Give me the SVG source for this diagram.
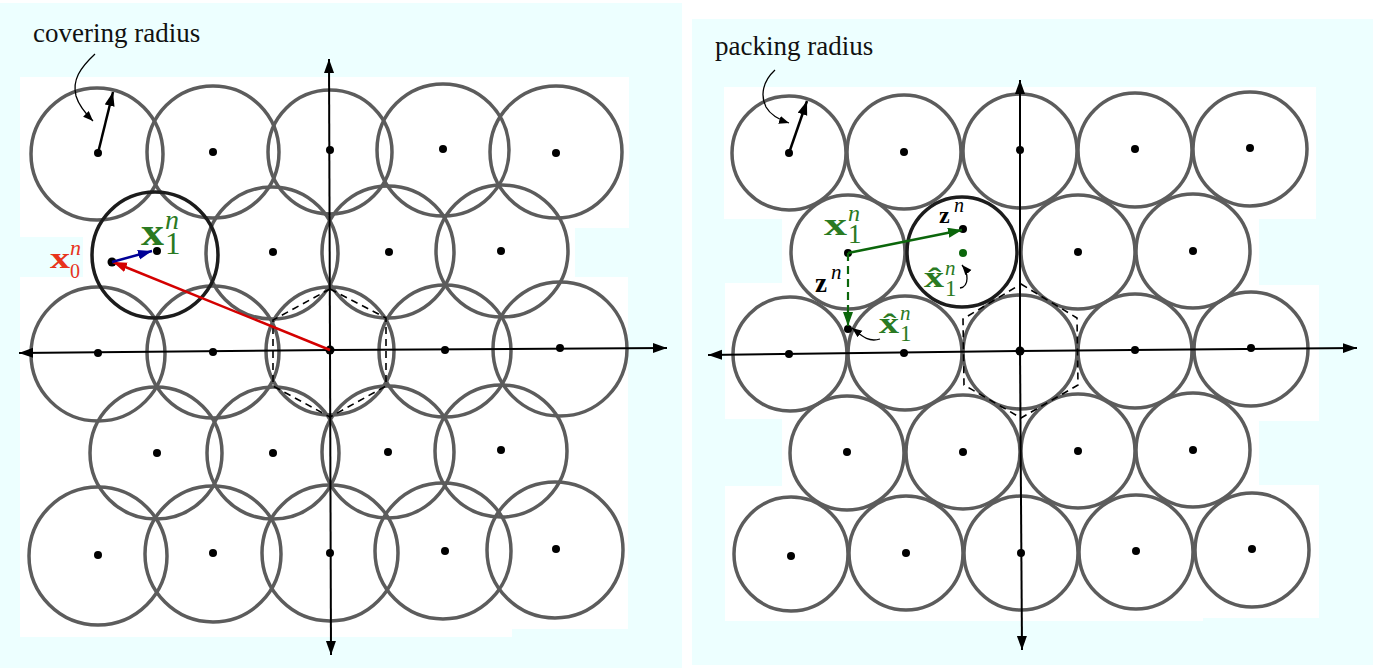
<svg xmlns="http://www.w3.org/2000/svg" width="1392" height="671" viewBox="0 0 1392 671">
<style>
.bg{fill:#edffff}
.wh{fill:#ffffff}
.c{fill:none;stroke:#5c5c5c;stroke-width:3.5}
.cb{fill:none;stroke:#1c1c1c;stroke-width:3.5}
.d{fill:#000}
.ax{stroke:#000;stroke-width:2;fill:none}
.hex{fill:none;stroke:#000;stroke-width:1.6;stroke-dasharray:7 5}
.lbl{font-family:"Liberation Serif","Times New Roman",serif;font-size:27px;fill:#111}
.m{font-family:"Liberation Serif","Times New Roman",serif}
.bx{font-weight:bold}
.it{font-style:italic}
</style>
<defs>
<marker id="ak" markerUnits="userSpaceOnUse" markerWidth="16" markerHeight="12" refX="14" refY="5" orient="auto"><path d="M0,0 L14,5 L0,10 z" fill="#000"/></marker>
<marker id="aks" markerUnits="userSpaceOnUse" markerWidth="12" markerHeight="10" refX="10" refY="4" orient="auto"><path d="M0,0 L10,4 L0,8 z" fill="#000"/></marker>
<marker id="ar" markerUnits="userSpaceOnUse" markerWidth="16" markerHeight="12" refX="14" refY="5" orient="auto"><path d="M0,0 L14,5 L0,10 z" fill="#d40000"/></marker>
<marker id="ab" markerUnits="userSpaceOnUse" markerWidth="16" markerHeight="12" refX="14" refY="5" orient="auto"><path d="M0,0 L14,5 L0,10 z" fill="#000096"/></marker>
<marker id="ag" markerUnits="userSpaceOnUse" markerWidth="16" markerHeight="12" refX="14" refY="5" orient="auto"><path d="M0,0 L14,5 L0,10 z" fill="#0b660b"/></marker>
</defs>

<g id="background">
<rect class="bg" x="0" y="3" width="682" height="665"/>
<rect class="bg" x="692" y="19" width="681" height="646"/>
<path class="wh" d="M20,77 H629 V228 H575 V277 H628 V629 H512 V637 H20 V277 H83 V237 H20 Z"/>
<path class="wh" d="M724,87 H1316 V219 H1259 V285 H1319 V421 H1259 V485 H1319 V618 H1203 V621 H725 V486 H782 V419 H725 V283 H782 V219 H724 Z"/>
</g>

<g id="left-lattice">
<g id="L11"><circle class="c" cx="97" cy="154" r="66"/><circle class="d" cx="98" cy="153" r="4"/></g>
<g id="L12"><circle class="c" cx="213" cy="152" r="66"/><circle class="d" cx="213" cy="152" r="4"/></g>
<g id="L13"><circle class="c" cx="330" cy="152" r="62"/><circle class="d" cx="330" cy="150" r="4"/></g>
<g id="L14"><circle class="c" cx="443" cy="150" r="66"/><circle class="d" cx="443" cy="149" r="4"/></g>
<g id="L15"><circle class="c" cx="556" cy="152" r="66"/><circle class="d" cx="556" cy="153" r="4"/></g>
<g id="L22"><circle class="c" cx="272" cy="253" r="66"/><circle class="d" cx="273" cy="252" r="4"/></g>
<g id="L23"><circle class="c" cx="388" cy="252" r="66"/><circle class="d" cx="389" cy="252" r="4"/></g>
<g id="L24"><circle class="c" cx="502" cy="251" r="66"/><circle class="d" cx="501" cy="251" r="4"/></g>
<g id="L31"><circle class="c" cx="98" cy="354" r="67"/><circle class="d" cx="98" cy="353" r="4"/></g>
<g id="L32"><circle class="c" cx="213" cy="352" r="66"/><circle class="d" cx="213" cy="352" r="4"/></g>
<g id="L33"><circle class="c" cx="330" cy="351" r="64"/><circle class="d" cx="330" cy="350" r="4.5"/></g>
<g id="L34"><circle class="c" cx="445" cy="351" r="66"/><circle class="d" cx="445" cy="350" r="4"/></g>
<g id="L35"><circle class="c" cx="560" cy="349" r="67"/><circle class="d" cx="560" cy="348" r="4"/></g>
<g id="L41"><circle class="c" cx="156" cy="453" r="66"/><circle class="d" cx="157" cy="453" r="4"/></g>
<g id="L42"><circle class="c" cx="273" cy="453" r="66"/><circle class="d" cx="273" cy="453" r="4"/></g>
<g id="L43"><circle class="c" cx="388" cy="452" r="66"/><circle class="d" cx="388" cy="452" r="4"/></g>
<g id="L44"><circle class="c" cx="501" cy="451" r="66"/><circle class="d" cx="501" cy="450" r="4"/></g>
<g id="L51"><circle class="c" cx="98" cy="556" r="69"/><circle class="d" cx="98" cy="555" r="4"/></g>
<g id="L52"><circle class="c" cx="213" cy="554" r="68"/><circle class="d" cx="213" cy="553" r="4"/></g>
<g id="L53"><circle class="c" cx="330" cy="553" r="68"/><circle class="d" cx="330" cy="553" r="4"/></g>
<g id="L54"><circle class="c" cx="443" cy="551" r="68"/><circle class="d" cx="445" cy="551" r="4"/></g>
<g id="L55"><circle class="c" cx="555" cy="550" r="68"/><circle class="d" cx="556" cy="549" r="4"/></g>
<g id="L21"><circle class="cb" cx="155" cy="255" r="63"/><circle class="d" cx="157" cy="251" r="4"/></g>
<g id="x0pt"><circle class="d" cx="112" cy="262" r="4.5"/></g>
</g>

<g id="right-lattice">
<g id="R11"><circle class="c" cx="789" cy="153" r="57"/><circle class="d" cx="789" cy="153" r="4"/></g>
<g id="R12"><circle class="c" cx="904" cy="152" r="57"/><circle class="d" cx="904" cy="152" r="4"/></g>
<g id="R13"><circle class="c" cx="1020" cy="151" r="57"/><circle class="d" cx="1020" cy="150" r="4"/></g>
<g id="R14"><circle class="c" cx="1135" cy="150" r="57"/><circle class="d" cx="1135" cy="149" r="4"/></g>
<g id="R15"><circle class="c" cx="1250" cy="149" r="57"/><circle class="d" cx="1250" cy="148" r="4"/></g>
<g id="R21"><circle class="c" cx="848" cy="252" r="57"/><circle class="d" cx="848" cy="253" r="4"/></g>
<g id="R23"><circle class="c" cx="1078" cy="252" r="57"/><circle class="d" cx="1078" cy="252" r="4"/></g>
<g id="R24"><circle class="c" cx="1193" cy="251" r="57"/><circle class="d" cx="1193" cy="251" r="4"/></g>
<g id="R31"><circle class="c" cx="790" cy="354" r="57"/><circle class="d" cx="789" cy="354" r="4"/></g>
<g id="R32"><circle class="c" cx="905" cy="353" r="57"/><circle class="d" cx="904" cy="353" r="4"/></g>
<g id="R33"><circle class="c" cx="1020" cy="352" r="57"/><circle class="d" cx="1020" cy="351" r="4.5"/></g>
<g id="R34"><circle class="c" cx="1135" cy="351" r="57"/><circle class="d" cx="1135" cy="350" r="4"/></g>
<g id="R35"><circle class="c" cx="1251" cy="349" r="57"/><circle class="d" cx="1251" cy="348" r="4"/></g>
<g id="R41"><circle class="c" cx="847" cy="453" r="57"/><circle class="d" cx="847" cy="452" r="4"/></g>
<g id="R42"><circle class="c" cx="963" cy="452" r="57"/><circle class="d" cx="963" cy="452" r="4"/></g>
<g id="R43"><circle class="c" cx="1078" cy="451" r="57"/><circle class="d" cx="1078" cy="451" r="4"/></g>
<g id="R44"><circle class="c" cx="1193" cy="450" r="57"/><circle class="d" cx="1193" cy="450" r="4"/></g>
<g id="R51"><circle class="c" cx="791" cy="554" r="57"/><circle class="d" cx="791" cy="556" r="4"/></g>
<g id="R52"><circle class="c" cx="906" cy="553" r="57"/><circle class="d" cx="906" cy="553" r="4"/></g>
<g id="R53"><circle class="c" cx="1021" cy="553" r="57"/><circle class="d" cx="1021" cy="553" r="4"/></g>
<g id="R54"><circle class="c" cx="1136" cy="552" r="57"/><circle class="d" cx="1136" cy="551" r="4"/></g>
<g id="R55"><circle class="c" cx="1252" cy="550" r="57"/><circle class="d" cx="1252" cy="549" r="4"/></g>
<g id="R22"><circle class="cb" cx="962" cy="252" r="55"/><circle cx="963" cy="253" r="4" fill="#0b660b"/><circle class="d" cx="963" cy="229" r="4"/></g>
<g id="xhat-pt"><circle class="d" cx="848" cy="329" r="4"/></g>
</g>

<g id="cells">
<polygon class="hex" points="330,289 386,318 386,386 330,417 273,386 273,320"/>
<polygon class="hex" points="1021,284 1077,318 1078,385 1021,418 964,385 963,319"/>
</g>

<g id="connectors">
<line class="ax" x1="330" y1="350" x2="667" y2="348" marker-end="url(#ak)"/>
<line class="ax" x1="330" y1="350" x2="19" y2="353" marker-end="url(#ak)"/>
<line class="ax" x1="330" y1="350" x2="329" y2="59" marker-end="url(#ak)"/>
<line class="ax" x1="330" y1="350" x2="331" y2="655" marker-end="url(#ak)"/>
<line class="ax" x1="1020" y1="351" x2="1357" y2="348" marker-end="url(#ak)"/>
<line class="ax" x1="1020" y1="351" x2="708" y2="355" marker-end="url(#ak)"/>
<line class="ax" x1="1020" y1="351" x2="1020" y2="80" marker-end="url(#ak)"/>
<line class="ax" x1="1020" y1="351" x2="1022" y2="650" marker-end="url(#ak)"/>
<line x1="98" y1="153" x2="113" y2="92" stroke="#000" stroke-width="2.5" marker-end="url(#ak)"/>
<line x1="789" y1="153" x2="807" y2="101" stroke="#000" stroke-width="2.5" marker-end="url(#ak)"/>
<path d="M95,54 C80,68 72,80 76,96 C79,106 85,113 93,121" fill="none" stroke="#000" stroke-width="1.3" marker-end="url(#aks)"/>
<path d="M775,70 C763,81 760,95 766,107 C770,114 777,119 789,123" fill="none" stroke="#000" stroke-width="1.3" marker-end="url(#aks)"/>
<line x1="330" y1="350" x2="113" y2="262" stroke="#d40000" stroke-width="2.5" marker-end="url(#ar)"/>
<line x1="112" y1="262" x2="152" y2="251" stroke="#000096" stroke-width="2.5" marker-end="url(#ab)"/>
<line x1="848" y1="253" x2="962" y2="230" stroke="#0b660b" stroke-width="2.5" marker-end="url(#ag)"/>
<line x1="848" y1="253" x2="848" y2="326" stroke="#0b660b" stroke-width="2.2" stroke-dasharray="8 5" marker-end="url(#ag)"/>
<path d="M960,288 C970,286 968,272 962,265" fill="none" stroke="#000" stroke-width="1.3" marker-end="url(#aks)"/>
<path d="M880,339 C867,343 860,334 852,328" fill="none" stroke="#000" stroke-width="1.3" marker-end="url(#aks)"/>
</g>

<g id="labels">
<text class="lbl" x="33" y="42">covering radius</text>
<text class="lbl" x="715" y="55">packing radius</text>
<text class="m" fill="#e8341c"><tspan class="bx" x="50" y="268" font-size="30" textLength="20" lengthAdjust="spacingAndGlyphs">x</tspan><tspan class="it" x="70" y="255" font-size="22">n</tspan><tspan x="70" y="278" font-size="20">0</tspan></text>
<text class="m" fill="#2a7a22"><tspan class="bx" x="141" y="245" font-size="38" textLength="23" lengthAdjust="spacingAndGlyphs">x</tspan><tspan class="it" x="165" y="229" font-size="28">n</tspan><tspan x="165" y="254" font-size="31">1</tspan></text>
<text class="m" fill="#2a7a22"><tspan class="bx" x="824" y="235" font-size="31" textLength="23" lengthAdjust="spacingAndGlyphs">x</tspan><tspan class="it" x="848" y="221" font-size="24">n</tspan><tspan x="848" y="243" font-size="27">1</tspan></text>
<text class="m" fill="#000"><tspan class="bx" x="939" y="223" font-size="24">z</tspan><tspan class="it" x="954" y="212" font-size="20">n</tspan></text>
<text class="m" fill="#000"><tspan class="bx" x="815" y="292" font-size="27">z</tspan><tspan class="it" x="831" y="279" font-size="21">n</tspan></text>
<text class="m" fill="#2a7a22"><tspan class="bx" x="924" y="287" font-size="29" textLength="20" lengthAdjust="spacingAndGlyphs">x̂</tspan><tspan class="it" x="945" y="275" font-size="21">n</tspan><tspan x="945" y="296" font-size="23">1</tspan></text>
<text class="m" fill="#2a7a22"><tspan class="bx" x="879" y="333" font-size="29" textLength="20" lengthAdjust="spacingAndGlyphs">x̂</tspan><tspan class="it" x="900" y="320" font-size="21">n</tspan><tspan x="900" y="341" font-size="23">1</tspan></text>
</g>
</svg>
